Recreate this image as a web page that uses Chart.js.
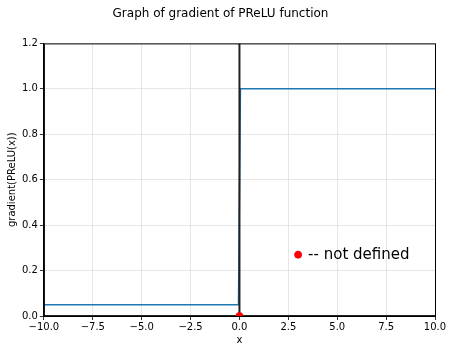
<!DOCTYPE html>
<html>
<head>
<meta charset="utf-8">
<script src="https://cdn.jsdelivr.net/npm/chart.js@4/dist/chart.umd.min.js"></script>
<style>
  body { margin: 0; background: #fff; }
</style>
</head>
<body>
<canvas id="chart" width="453" height="353"></canvas>
<script>
// gradient of PReLU (alpha = 0.05), jump at x = 0
const gradX = [-10, -0.05, 0.05, 10];
const gradY = [0.05, 0.05, 1, 1];
const undefinedPoint = { x: 0, y: 0 };
const notePoint = { x: 3, y: 0.27 };
const noteText = '-- not defined';
const xTicks = [-10, -7.5, -5, -2.5, 0, 2.5, 5, 7.5, 10];
const yTicks = [0, 0.2, 0.4, 0.6, 0.8, 1.0, 1.2];

const fmt = v => v.toFixed(1).replace('-', '\u2212');

// frame around the plot + note text
const framePlugin = {
    id: 'frame',
    afterDatasetsDraw(chart) {
        const { ctx, chartArea: a, scales } = chart;
        ctx.save();
        ctx.strokeStyle = '#000';
        ctx.lineWidth = 1;
        ctx.strokeRect(a.left + 0.5, a.top + 0.5, a.right - a.left, a.bottom - a.top);
        ctx.fillStyle = '#000';
        ctx.font = '15px "DejaVu Sans"';
        ctx.textBaseline = 'middle';
        ctx.fillText(noteText, scales.x.getPixelForValue(notePoint.x) + 10, scales.y.getPixelForValue(notePoint.y));
        ctx.restore();
    }
};

Chart.defaults.font.family = "'DejaVu Sans', sans-serif";
Chart.defaults.color = '#000';

new Chart(document.getElementById('chart'), {
    type: 'scatter',
    data: {
        datasets: [{
            data: gradX.map((x, i) => ({ x: x, y: gradY[i] })),
            showLine: true,
            borderColor: '#1f77b4',
            borderWidth: 1.5,
            pointRadius: 0,
            order: 3
        }, {
            // axvline
            data: [{ x: 0, y: 0 }, { x: 0, y: 1.2 }],
            showLine: true,
            borderColor: '#222',
            borderWidth: 2,
            pointRadius: 0,
            order: 2
        }, {
            // axhline
            data: [{ x: -10, y: 0 }, { x: 10, y: 0 }],
            showLine: true,
            borderColor: '#222',
            borderWidth: 2,
            pointRadius: 0,
            order: 2
        }, {
            data: [undefinedPoint, notePoint],
            backgroundColor: '#ff0000',
            borderColor: '#ff0000',
            pointRadius: 3.5,
            order: 1
        }]
    },
    options: {
        responsive: false,
        animation: false,
        layout: { padding: { top: 0, right: 18, left: 6, bottom: 7 } },
        plugins: {
            legend: { display: false },
            tooltip: { enabled: false },
            title: {
                display: true,
                text: 'Graph of gradient of PReLU function',
                font: { size: 12, weight: 'normal' },
                padding: { top: 7, bottom: 22 }
            }
        },
        scales: {
            x: {
                type: 'linear',
                min: -10,
                max: 10,
                afterBuildTicks: s => { s.ticks = xTicks.map(v => ({ value: v })); },
                ticks: { callback: v => fmt(v), font: { size: 10 }, maxRotation: 0, padding: 1 },
                grid: { color: '#e0e0e0', lineWidth: 0.8, tickColor: '#000', tickLength: 4 },
                border: { color: '#000' },
                title: { display: true, text: 'x', font: { size: 10 }, padding: { top: 0, bottom: 0 } }
            },
            y: {
                type: 'linear',
                min: 0,
                max: 1.2,
                afterBuildTicks: s => { s.ticks = yTicks.map(v => ({ value: v })); },
                ticks: { callback: v => fmt(v), font: { size: 10 }, padding: 2 },
                grid: { color: '#e0e0e0', lineWidth: 0.8, tickColor: '#000', tickLength: 4 },
                border: { color: '#000' },
                title: { display: true, text: 'gradient(PReLU(x))', font: { size: 10 }, padding: { top: 0, bottom: 2 } }
            }
        }
    },
    plugins: [framePlugin]
});
</script>
</body>
</html>
